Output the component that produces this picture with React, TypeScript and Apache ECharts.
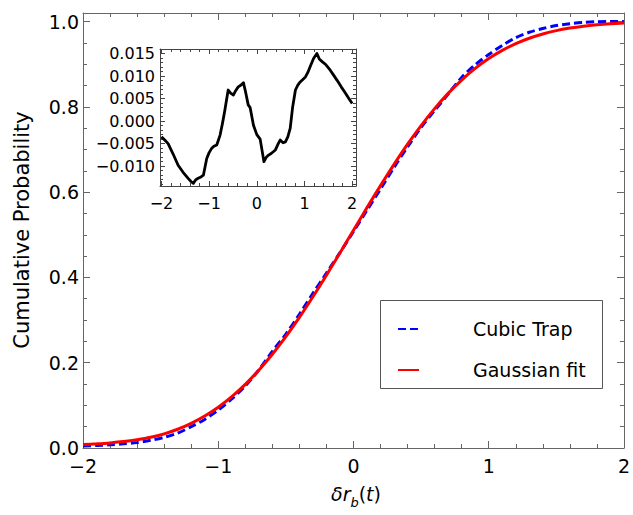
import React, { useEffect, useRef } from "react";
import * as echarts from "echarts";

// ---------- data ----------
const xGrid = [
  -2.0, -1.9, -1.8, -1.7, -1.6, -1.5, -1.4, -1.3, -1.2, -1.1, -1.0, -0.9, -0.8, -0.7,
  -0.6, -0.5, -0.4, -0.3, -0.2, -0.1, 0.0, 0.1, 0.2, 0.3, 0.4, 0.5, 0.6, 0.7, 0.8,
  0.9, 1.0, 1.1, 1.2, 1.3, 1.4, 1.5, 1.6, 1.7, 1.8, 1.9, 2.0,
];
const gaussianFit = [
  0.008, 0.0098, 0.012, 0.015, 0.0193, 0.025, 0.0332, 0.044, 0.0579, 0.0749, 0.0956,
  0.1204, 0.1492, 0.1823, 0.2197, 0.2611, 0.3061, 0.3545, 0.4052, 0.4574, 0.5106,
  0.5636, 0.6153, 0.6652, 0.7123, 0.756, 0.7958, 0.8315, 0.8628, 0.89, 0.9131,
  0.9323, 0.9481, 0.9608, 0.9708, 0.9787, 0.9846, 0.9891, 0.9924, 0.9948, 0.9965,
];
const cubicTrap = [
  0.0045, 0.0058, 0.0075, 0.0098, 0.013, 0.018, 0.025, 0.035, 0.05, 0.067, 0.089,
  0.115, 0.1455, 0.183, 0.2266, 0.267, 0.3135, 0.3628, 0.4099, 0.4582, 0.5076,
  0.5576, 0.6073, 0.658, 0.7061, 0.7517, 0.7912, 0.8299, 0.869, 0.8986, 0.9227,
  0.9439, 0.9622, 0.9748, 0.9837, 0.9905, 0.995, 0.9979, 0.9995, 0.9999, 1.0,
];
const insetX = [
  -2.0, -1.93, -1.86, -1.76, -1.65, -1.55, -1.44, -1.38, -1.33, -1.28, -1.23, -1.17,
  -1.12, -1.05, -1.0, -0.95, -0.9, -0.84, -0.77, -0.72, -0.67, -0.63, -0.6, -0.55,
  -0.49, -0.44, -0.39, -0.33, -0.28, -0.23, -0.18, -0.14, -0.07, 0.0, 0.07, 0.15,
  0.2, 0.24, 0.3, 0.39, 0.45, 0.49, 0.55, 0.6, 0.65, 0.7, 0.75, 0.81, 0.86, 0.91,
  0.96, 1.02, 1.07, 1.12, 1.19, 1.26, 1.31, 1.37, 1.45, 1.54, 1.61, 1.68, 1.77,
  1.86, 1.93, 2.0,
];
const insetDiff = [
  -0.0035, -0.0042, -0.005, -0.0072, -0.0098, -0.0113, -0.0127, -0.0134, -0.0138,
  -0.013, -0.0127, -0.0124, -0.012, -0.0083, -0.007, -0.0061, -0.0056, -0.0053,
  -0.0031, -0.0005, 0.0024, 0.005, 0.0069, 0.0062, 0.0058, 0.0068, 0.0076, 0.008,
  0.0085, 0.0062, 0.0036, 0.003, -0.0009, -0.003, -0.004, -0.009, -0.008, -0.0076,
  -0.0072, -0.0064, -0.005, -0.0042, -0.0048, -0.0046, -0.0035, -0.0016, 0.003,
  0.0069, 0.008, 0.0087, 0.0092, 0.0098, 0.0108, 0.0121, 0.0139, 0.015, 0.0138,
  0.0132, 0.0125, 0.0113, 0.0102, 0.0091, 0.0076, 0.0062, 0.005, 0.0039,
];
const seriesNames = ["Cubic Trap", "Gaussian fit"];
const yAxisTitle = "Cumulative Probability";

const FONT = "DejaVu Sans";
const MINUS = "\u2212";

const fmt = (v: number, digits: number) => {
  const s = Math.abs(v) < 1e-12 ? (0).toFixed(digits) : v.toFixed(digits);
  return s.replace("-", MINUS);
};
const onStep = (v: number, step: number) =>
  Math.abs(v / step - Math.round(v / step)) < 1e-6;

export default function App() {
  const ref = useRef<HTMLDivElement>(null);
  useEffect(() => {
    const chart = echarts.init(ref.current!, null, { renderer: "svg" });
    const frame = "#666666";
    const insetFrame = "#444444";

    const axisCommon = (color: string, major: number, minor: number, split: number) => ({
      type: "value" as const,
      axisLine: { show: true, onZero: false, lineStyle: { color, width: 1 } },
      axisTick: { show: true, inside: true, length: major, lineStyle: { color, width: 1 } },
      minorTick: { show: true, splitNumber: split, length: minor, lineStyle: { color, width: 1 } },
      splitLine: { show: false },
      minorSplitLine: { show: false },
    });

    chart.setOption({
      animation: false,
      backgroundColor: "#ffffff",
      grid: [
        { left: 83, top: 13, width: 545.5, height: 435 },
        { left: 160, top: 49, width: 196, height: 137 },
      ],
      xAxis: [
        {
          ...axisCommon(frame, 7, 4, 5),
          gridIndex: 0,
          position: "bottom",
          min: -2,
          max: 2,
          interval: 1,
          axisLabel: {
            show: true,
            margin: 8,
            color: "#000",
            fontFamily: FONT,
            fontSize: 19,
            formatter: (v: number) => (onStep(v, 1) ? fmt(v, 0) : ""),
          },
        },
        {
          ...axisCommon(frame, 7, 4, 5),
          gridIndex: 0,
          position: "top",
          min: -2,
          max: 2,
          interval: 1,
          axisLabel: { show: false },
        },
        {
          ...axisCommon(insetFrame, 5, 3, 5),
          gridIndex: 1,
          position: "bottom",
          min: -2.03,
          max: 2.08,
          splitNumber: 4,
          axisLabel: {
            show: true,
            margin: 9,
            color: "#000",
            fontFamily: FONT,
            fontSize: 16,
            formatter: (v: number) => (onStep(v, 1) ? fmt(v, 0) : ""),
          },
        },
        {
          ...axisCommon(insetFrame, 5, 3, 5),
          gridIndex: 1,
          position: "top",
          min: -2.03,
          max: 2.08,
          splitNumber: 4,
          axisLabel: { show: false },
        },
      ],
      yAxis: [
        {
          ...axisCommon(frame, 7, 4, 4),
          gridIndex: 0,
          position: "left",
          min: 0,
          max: 1.02,
          splitNumber: 5,
          axisLabel: {
            show: true,
            margin: 4,
            color: "#000",
            fontFamily: FONT,
            fontSize: 19,
            formatter: (v: number) => (onStep(v, 0.2) && v < 1.01 ? fmt(v, 1) : ""),
          },
        },
        {
          ...axisCommon(frame, 7, 4, 4),
          gridIndex: 0,
          position: "right",
          min: 0,
          max: 1.02,
          splitNumber: 5,
          axisLabel: { show: false },
        },
        {
          ...axisCommon(insetFrame, 5, 3, 5),
          gridIndex: 1,
          position: "left",
          min: -0.0144,
          max: 0.016,
          splitNumber: 6,
          axisLabel: {
            show: true,
            margin: 5,
            color: "#000",
            fontFamily: FONT,
            fontSize: 16,
            formatter: (v: number) =>
              onStep(v, 0.005) && v < 0.0155 && v > -0.0141 ? fmt(v, 3) : "",
          },
        },
        {
          ...axisCommon(insetFrame, 5, 3, 5),
          gridIndex: 1,
          position: "right",
          min: -0.0144,
          max: 0.016,
          splitNumber: 6,
          axisLabel: { show: false },
        },
      ],
      legend: {
        orient: "vertical",
        left: 392,
        top: 313,
        itemWidth: 21,
        itemHeight: 14,
        itemGap: 19,
        data: seriesNames,
        itemStyle: { opacity: 0, borderWidth: 0 },
        textStyle: {
          color: "#000",
          fontFamily: FONT,
          fontSize: 19,
          lineHeight: 22,
          padding: [0, 0, 0, 49],
        },
      },
      series: [
        {
          name: seriesNames[0],
          type: "line",
          xAxisIndex: 0,
          yAxisIndex: 0,
          data: xGrid.map((x, i) => [x, cubicTrap[i]]),
          symbol: "none",
          showSymbol: false,
          smooth: 0.3,
          lineStyle: { color: "#0000ff", width: 3, type: [8, 4] },
          itemStyle: { color: "#0000ff" },
          z: 2,
        },
        {
          name: seriesNames[1],
          type: "line",
          xAxisIndex: 0,
          yAxisIndex: 0,
          data: xGrid.map((x, i) => [x, gaussianFit[i]]),
          symbol: "none",
          showSymbol: false,
          smooth: 0.3,
          lineStyle: { color: "#ff0000", width: 3 },
          itemStyle: { color: "#ff0000" },
          z: 3,
        },
        {
          name: "difference",
          type: "line",
          xAxisIndex: 2,
          yAxisIndex: 2,
          data: insetX.map((x, i) => [x, insetDiff[i]]),
          symbol: "none",
          lineStyle: { color: "#000000", width: 2.8, join: "round" },
          itemStyle: { color: "#000000" },
          z: 3,
        },
      ],
      graphic: [
        {
          type: "rect",
          shape: { x: 380.5, y: 300.5, width: 222, height: 88 },
          style: { fill: "none", stroke: "#555555", lineWidth: 1 },
          z: 1,
        },
        {
          type: "text",
          x: 22,
          y: 230,
          rotation: Math.PI / 2,
          style: {
            text: yAxisTitle,
            fontFamily: FONT,
            fontSize: 21,
            fill: "#000",
            align: "center",
            verticalAlign: "middle",
          },
        },
        {
          type: "text",
          x: 356,
          y: 484,
          style: {
            text: "{i|δr}{s|b}{n|(}{i|t}{n|)}",
            align: "center",
            verticalAlign: "top",
            fill: "#000",
            rich: {
              i: { fontFamily: FONT, fontStyle: "italic", fontSize: 19, lineHeight: 24, verticalAlign: "top", fill: "#000" },
              n: { fontFamily: FONT, fontSize: 19, lineHeight: 24, verticalAlign: "top", fill: "#000" },
              s: { fontFamily: FONT, fontStyle: "italic", fontSize: 13, lineHeight: 18, padding: [12, 0, 0, 0], verticalAlign: "top", fill: "#000" },
            },
          },
        },
      ],
    });
    return () => chart.dispose();
  }, []);
  return <div ref={ref} style={{ width: 633, height: 515, position: "absolute", left: 0, top: 0 }} />;
}
